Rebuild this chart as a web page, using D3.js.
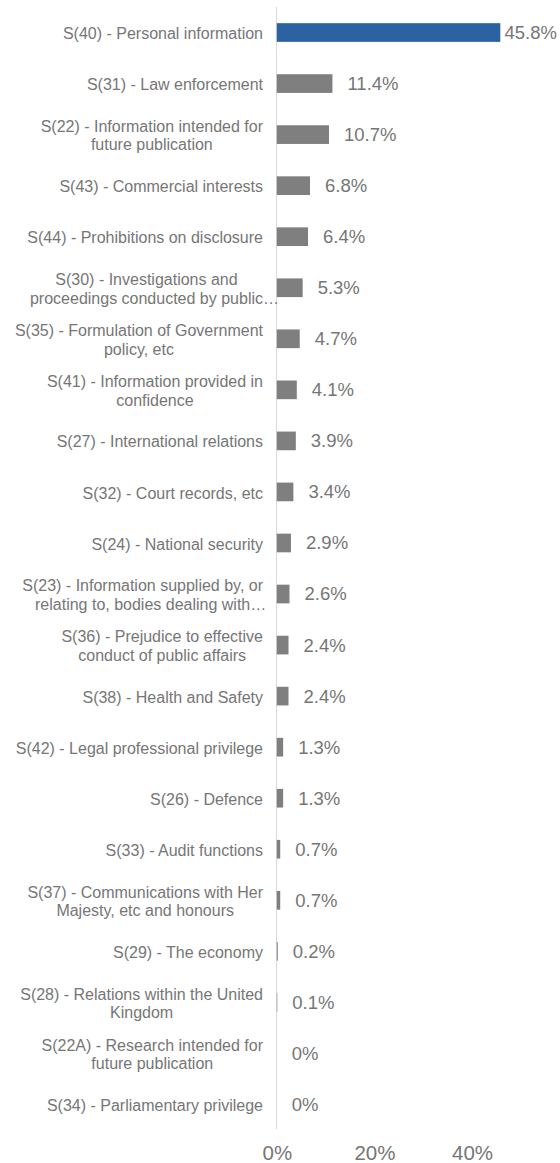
<!DOCTYPE html>
<html>
<head>
<meta charset="utf-8">
<script src="https://cdn.jsdelivr.net/npm/d3@7"></script>
<style>
  html, body { margin: 0; padding: 0; background: #ffffff; }
  svg { display: block; }
  text { font-family: "Liberation Sans", Arial, sans-serif; fill: #767676; }
</style>
</head>
<body>
<svg id="chart" width="560" height="1163"></svg>
<script>
const categories = [
  ["S(40) - Personal information"],
  ["S(31) - Law enforcement"],
  ["S(22) - Information intended for", "future publication"],
  ["S(43) - Commercial interests"],
  ["S(44) - Prohibitions on disclosure"],
  ["S(30) - Investigations and", "proceedings conducted by public…"],
  ["S(35) - Formulation of Government", "policy, etc"],
  ["S(41) - Information provided in", "confidence"],
  ["S(27) - International relations"],
  ["S(32) - Court records, etc"],
  ["S(24) - National security"],
  ["S(23) - Information supplied by, or", "relating to, bodies dealing with…"],
  ["S(36) - Prejudice to effective", "conduct of public affairs"],
  ["S(38) - Health and Safety"],
  ["S(42) - Legal professional privilege"],
  ["S(26) - Defence"],
  ["S(33) - Audit functions"],
  ["S(37) - Communications with Her", "Majesty, etc and honours"],
  ["S(29) - The economy"],
  ["S(28) - Relations within the United", "Kingdom"],
  ["S(22A) - Research intended for", "future publication"],
  ["S(34) - Parliamentary privilege"]
];
const values = [45.8, 11.4, 10.7, 6.8, 6.4, 5.3, 4.7, 4.1, 3.9, 3.4, 2.9, 2.6, 2.4, 2.4, 1.3, 1.3, 0.7, 0.7, 0.2, 0.1, 0, 0];
const highlightIndex = [0];
const tickValues = [0, 20, 40];
const tickLabels = ["0%", "20%", "40%"];

const W = 560, H = 1163;
const svg = d3.select("#chart");

const x = d3.scaleLinear().domain([0, 50]).range([276.8, 520.8]);
const y = d3.scaleBand().domain(d3.range(categories.length)).range([7, 1130]).paddingInner(0.634).paddingOuter(0.317);

// axis line
svg.append("line")
  .attr("x1", 276.5).attr("x2", 276.5)
  .attr("y1", 7).attr("y2", 1129)
  .attr("stroke", "#d9d9d9").attr("stroke-width", 1);

// bars
svg.append("g").selectAll("rect").data(values).join("rect")
  .attr("x", x(0))
  .attr("y", (d, i) => y(i))
  .attr("width", d => Math.max(0, x(d) - x(0)))
  .attr("height", y.bandwidth())
  .attr("fill", (d, i) => highlightIndex.includes(i) ? "#2a62a2" : "#7f7f7f");

// category labels (lines centred within a right-aligned block; a trailing ellipsis overflows)
const labelRight = 263;
const lineH = 18.5;
const catG = svg.append("g");
categories.forEach((lines, i) => {
  const cy = y(i) + y.bandwidth() / 2 + 1;
  const g = catG.append("g");
  const items = lines.map((t, k) => {
    const base = t.replace(/…$/, "");
    const el = g.append("text")
      .attr("font-size", 16)
      .attr("text-anchor", "start")
      .attr("y", cy + (k - (lines.length - 1) / 2) * lineH)
      .attr("dy", "0.35em")
      .text(base);
    const w = el.node().getComputedTextLength();
    el.text(t);
    return { el, w };
  });
  const maxW = d3.max(items, d => d.w);
  const centre = labelRight - maxW / 2;
  items.forEach(d => d.el.attr("x", centre - d.w / 2));
});

// value labels
svg.append("g").selectAll("text").data(values).join("text")
  .attr("font-size", 18.5)
  .attr("y", (d, i) => y(i) + y.bandwidth() / 2)
  .attr("dy", "0.35em")
  .text(d => d === 0 ? "0%" : d.toFixed(1) + "%")
  .each(function(d) {
    const w = this.getComputedTextLength();
    const px = Math.min(x(d) + 15, 557 - w);
    d3.select(this).attr("x", px);
  });

// x axis tick labels
const axis = d3.axisBottom(x).tickValues(tickValues).tickFormat((d, i) => tickLabels[i]).tickSize(0).tickPadding(0);
const ax = svg.append("g").attr("transform", "translate(0,1153)").call(axis);
ax.select(".domain").remove();
ax.selectAll("text")
  .attr("font-size", 20.5)
  .attr("font-family", "Liberation Sans, Arial, sans-serif")
  .attr("fill", "#767676")
  .attr("y", 0)
  .attr("dy", "0.35em");
</script>
</body>
</html>
